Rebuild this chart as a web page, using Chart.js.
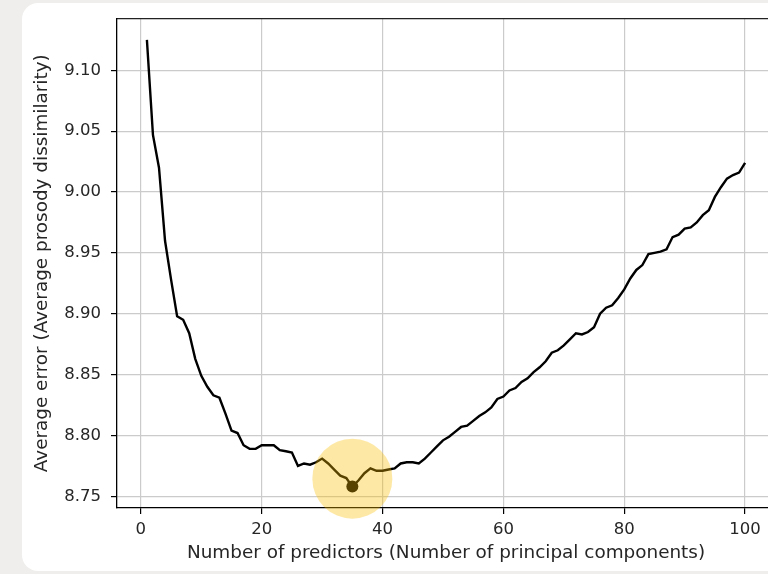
<!DOCTYPE html>
<html>
<head>
<meta charset="utf-8">
<script src="https://cdn.jsdelivr.net/npm/chart.js@4.4.1/dist/chart.umd.min.js"></script>
<style>
  html, body { margin: 0; padding: 0; overflow: hidden; background: #efeeec; width: 768px; height: 574px; }
  #card { position: absolute; left: 22px; top: 3px; width: 800px; height: 568px; background: #fff; border-radius: 16px; }
  #chart { position: absolute; left: 0; top: 0; }
</style>
</head>
<body>
<div id="card"></div>
<canvas id="chart" width="800" height="574"></canvas>
<script>
// ------------------------
// DATA
// ------------------------
const predictors = [
  1, 2, 3, 4, 5, 6, 7, 8, 9, 10, 11, 12, 13, 14, 15, 16, 17, 18, 19, 20,
  21, 22, 23, 24, 25, 26, 27, 28, 29, 30, 31, 32, 33, 34, 35, 36, 37, 38, 39, 40,
  41, 42, 43, 44, 45, 46, 47, 48, 49, 50, 51, 52, 53, 54, 55, 56, 57, 58, 59, 60,
  61, 62, 63, 64, 65, 66, 67, 68, 69, 70, 71, 72, 73, 74, 75, 76, 77, 78, 79, 80,
  81, 82, 83, 84, 85, 86, 87, 88, 89, 90, 91, 92, 93, 94, 95, 96, 97, 98, 99, 100
];

const avgError = [
  9.125, 9.047, 9.020, 8.960, 8.928, 8.898, 8.895, 8.884, 8.863, 8.849,
  8.840, 8.833, 8.831, 8.818, 8.804, 8.802, 8.792, 8.789, 8.789, 8.792,
  8.792, 8.792, 8.788, 8.787, 8.786, 8.775, 8.777, 8.776, 8.778, 8.781,
  8.777, 8.772, 8.767, 8.765, 8.758, 8.763, 8.769, 8.773, 8.771, 8.771,
  8.772, 8.773, 8.777, 8.778, 8.778, 8.777, 8.781, 8.786, 8.791, 8.796,
  8.799, 8.803, 8.807, 8.808, 8.812, 8.816, 8.819, 8.823, 8.830, 8.832,
  8.837, 8.839, 8.844, 8.847, 8.852, 8.856, 8.861, 8.868, 8.870, 8.874,
  8.879, 8.884, 8.883, 8.885, 8.889, 8.900, 8.905, 8.907, 8.913, 8.920,
  8.929, 8.936, 8.940, 8.949, 8.950, 8.951, 8.953, 8.963, 8.965, 8.970,
  8.971, 8.975, 8.981, 8.985, 8.996, 9.004, 9.011, 9.014, 9.016, 9.024
];

const xTicks = [0, 20, 40, 60, 80, 100];
const yTicks = [8.75, 8.80, 8.85, 8.90, 8.95, 9.00, 9.05, 9.10];

// highlight ring around the best number of predictors
const highlightX = [35];
const highlightY = [8.7645];

// ------------------------
// HELPERS
// ------------------------
const FONT = "'DejaVu Sans', 'Liberation Sans', sans-serif";
const TEXT = "#262626";
const GRID = "#cbcbcb";

let minIdx = 0;
avgError.forEach((v, i) => { if (v < avgError[minIdx]) minIdx = i; });

const linePoints = predictors.map((n, i) => ({ x: n, y: avgError[i] }));
const bestPoint = [{ x: predictors[minIdx], y: avgError[minIdx] }];
const ringPoints = highlightX.map((x, i) => ({ x, y: highlightY[i] }));

function fixedTicks(values) {
  return (scale) => { scale.ticks = values.map(v => ({ value: v })); };
}

// no auto padding for edge labels, the plot box is fixed
function noPad(scale) {
  scale.paddingTop = 0;
  scale.paddingBottom = 0;
  scale.paddingLeft = 0;
  scale.paddingRight = 0;
}

// ------------------------
// CHART
// ------------------------
new Chart(document.getElementById("chart"), {
  type: "scatter",
  data: {
    datasets: [
      {
        label: "highlight",
        data: ringPoints,
        pointRadius: 40,
        pointHoverRadius: 40,
        backgroundColor: "rgba(249, 189, 0, 0.35)",
        borderWidth: 0,
        clip: false
      },
      {
        label: "best",
        data: bestPoint,
        pointRadius: 6,
        pointHoverRadius: 6,
        backgroundColor: "#000",
        borderWidth: 0
      },
      {
        label: "error",
        data: linePoints,
        showLine: true,
        borderColor: "#000",
        borderWidth: 2.4,
        pointRadius: 0,
        tension: 0
      }
    ]
  },
  options: {
    responsive: false,
    animation: false,
    devicePixelRatio: 1,
    layout: { autoPadding: false, padding: { left: 22, top: 18.5, right: 25, bottom: 0 } },
    plugins: {
      legend: { display: false },
      tooltip: { enabled: false }
    },
    scales: {
      x: {
        type: "linear",
        position: "bottom",
        min: -3.95,
        max: 104.95,
        afterBuildTicks: fixedTicks(xTicks),
        afterFit: (s) => { s.height = 66; noPad(s); },
        grid: { color: GRID, lineWidth: 1.2, tickColor: "#000", tickLength: 6, tickWidth: 1.2 },
        border: { color: "#000", width: 1.3 },
        ticks: {
          font: { family: FONT, size: 16.5 },
          color: TEXT,
          padding: 6,
          maxRotation: 0,
          callback: (v) => String(v)
        },
        title: {
          display: true,
          text: "Number of predictors (Number of principal components)",
          font: { family: FONT, size: 18.4 },
          color: TEXT,
          padding: { top: 0, bottom: 10 }
        }
      },
      x2: {
        type: "linear",
        position: "top",
        min: -3.95,
        max: 104.95,
        afterFit: (s) => { s.height = 0; noPad(s); },
        grid: { drawOnChartArea: false, drawTicks: false },
        border: { color: "#222", width: 1.3 },
        ticks: { display: false }
      },
      y: {
        type: "linear",
        position: "left",
        min: 8.7404,
        max: 9.1426,
        afterBuildTicks: fixedTicks(yTicks),
        afterFit: (s) => { s.width = 95; noPad(s); },
        grid: { color: GRID, lineWidth: 1.2, tickColor: "#000", tickLength: 6, tickWidth: 1.2 },
        border: { color: "#000", width: 1.3 },
        ticks: {
          font: { family: FONT, size: 16.5 },
          color: TEXT,
          padding: 10,
          callback: (v) => Number(v).toFixed(2)
        },
        title: {
          display: true,
          text: "Average error (Average prosody dissimilarity)",
          font: { family: FONT, size: 18.4 },
          color: TEXT,
          padding: { top: 9.6, bottom: 0 }
        }
      }
    }
  }
});
</script>
</body>
</html>
